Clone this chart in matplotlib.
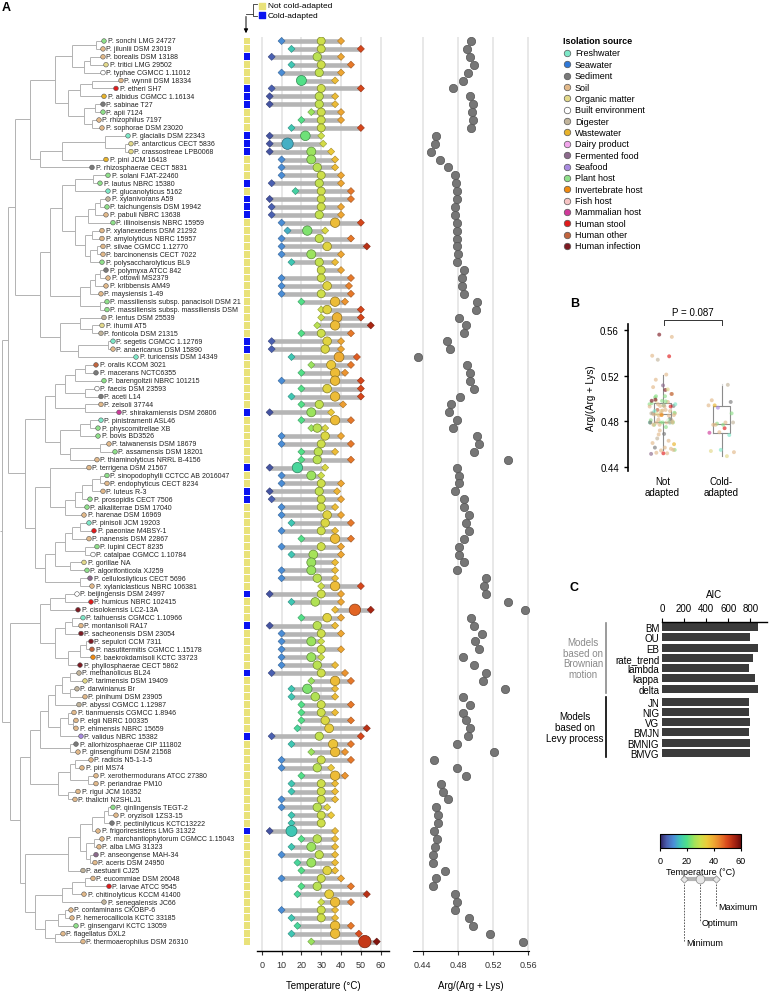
import matplotlib
matplotlib.use('Agg')
import matplotlib.pyplot as plt
import numpy as np
from matplotlib.collections import LineCollection
from matplotlib import cm, colors as mcolors

plt.rcParams['font.family'] = ['Liberation Sans', 'DejaVu Sans']

W, H = 774, 995

species = [
    'P. sonchi LMG 24727', 'P. jilunlii DSM 23019', 'P. borealis DSM 13188',
    'P. tritici LMG 29502', 'P. typhae CGMCC 1.11012', 'P. wynnii DSM 18334',
    'P. etheri SH7', 'P. albidus CGMCC 1.16134', 'P. sabinae T27', 'P. apii 7124',
    'P. rhizophilus 7197', 'P. sophorae DSM 23020', 'P. glacialis DSM 22343',
    'P. antarcticus CECT 5836', 'P. crassostreae LPB0068', 'P. pini JCM 16418',
    'P. rhizosphaerae CECT 5831', 'P. solani FJAT-22460', 'P. lautus NBRC 15380',
    'P. glucanolyticus 5162', 'P. xylanivorans A59', 'P. taichungensis DSM 19942',
    'P. pabuli NBRC 13638', 'P. illinoisensis NBRC 15959', 'P. xylanexedens DSM 21292',
    'P. amylolyticus NBRC 15957', 'P. silvae CGMCC 1.12770', 'P. barcinonensis CECT 7022',
    'P. polysaccharolyticus BL9', 'P. polymyxa ATCC 842', 'P. ottowii MS2379',
    'P. kribbensis AM49', 'P. maysiensis 1-49', 'P. massiliensis subsp. panacisoli DSM 21',
    'P. massiliensis subsp. massiliensis DSM', 'P. lentus DSM 25539', 'P. ihumii AT5',
    'P. fonticola DSM 21315', 'P. segetis CGMCC 1.12769', 'P. anaericanus DSM 15890',
    'P. turicensis DSM 14349', 'P. oralis KCOM 3021', 'P. macerans NCTC6355',
    'P. barengoltzii NBRC 101215', 'P. faecis DSM 23593', 'P. aceti L14',
    'P. zeisoli 37744', 'P. shirakamiensis DSM 26806', 'P. pinistramenti ASL46',
    'P. physcomitrellae XB', 'P. bovis BD3526', 'P. taiwanensis DSM 18679',
    'P. assamensis DSM 18201', 'P. thiaminolyticus NRRL B-4156', 'P. terrigena DSM 21567',
    'P. sinopodophylli CCTCC AB 2016047', 'P. endophyticus CECT 8234', 'P. luteus R-3',
    'P. prosopidis CECT 7506', 'P. alkaliterrae DSM 17040', 'P. harenae DSM 16969',
    'P. pinisoli JCM 19203', 'P. paeoniae M4BSY-1', 'P. nanensis DSM 22867',
    'P. lupini CECT 8235', 'P. catalpae CGMCC 1.10784', 'P. gorillae NA',
    'P. algorifonticola XJ259', 'P. cellulosilyticus CECT 5696',
    'P. xylaniclasticus NBRC 106381', 'P. beijingensis DSM 24997', 'P. humicus NBRC 102415',
    'P. cisolokensis LC2-13A', 'P. taihuensis CGMCC 1.10966', 'P. montanisoli RA17',
    'P. sacheonensis DSM 23054', 'P. sepulcri CCM 7311', 'P. nasutitermitis CGMCC 1.15178',
    'P. baekrokdamisoli KCTC 33723', 'P. phyllosphaerae CECT 5862', 'P. methanolicus BL24',
    'P. tarimensis DSM 19409', 'P. darwinianus Br', 'P. pinihumi DSM 23905',
    'P. abyssi CGMCC 1.12987', 'P. tianmuensis CGMCC 1.8946', 'P. elgii NBRC 100335',
    'P. ehimensis NBRC 15659', 'P. validus NBRC 15382', 'P. allorhizosphaerae CIP 111802',
    'P. ginsengihumi DSM 21568', 'P. radicis N5-1-1-5', 'P. piri MS74',
    'P. xerothermodurans ATCC 27380', 'P. periandrae PM10', 'P. rigui JCM 16352',
    'P. thalictri N2SHLJ1', 'P. qinlingensis TEGT-2', 'P. oryzisoli 1ZS3-15',
    'P. pectinilyticus KCTC13222', 'P. frigoriresistens LMG 31322',
    'P. marchantiophytorum CGMCC 1.15043', 'P. alba LMG 31323', 'P. anseongense MAH-34',
    'P. aceris DSM 24950', 'P. aestuarii CJ25', 'P. eucommiae DSM 26048',
    'P. larvae ATCC 9545', 'P. chitinolyticus KCCM 41400', 'P. senegalensis JC66',
    'P. contaminans CKOBP-6', 'P. hemerocallicola KCTC 33185', 'P. ginsengarvi KCTC 13059',
    'P. flagellatus DXL2', 'P. thermoaerophilus DSM 26310',
]

source = [
    'PH', 'SO', 'SO', 'OM', 'BE', 'SO', 'HS', 'WW', 'SE', 'PH', 'SO', 'SO',
    'FW', 'OM', 'OM', 'WW', 'SE', 'PH', 'PH', 'FW', 'DI', 'PH', 'SO', 'PH',
    'SO', 'SO', 'SO', 'SO', 'PH', 'SE', 'SO', 'SO', 'SO', 'PH', 'PH',
    'DI', 'OM', 'DI', 'FW', 'SO', 'FW', 'HO', 'SE', 'PH', 'BE', 'SE',
    'SO', 'MH', 'FW', 'PH', 'PH', 'SO', 'PH', 'SO', 'SO', 'PH', 'SO', 'SO',
    'PH', 'PH', 'SO', 'FW', 'HS', 'SO', 'PH', 'BE', 'OM', 'PH', 'FF', 'SO',
    'BE', 'HS', 'HI', 'FW', 'SO', 'HI', 'HI', 'HO', 'IH', 'HI', 'DI', 'OM',
    'DI', 'SO', 'DI', 'SO', 'SO', 'SO', 'SF', 'SE', 'SO', 'SO', 'SO', 'SO',
    'SO', 'SO', 'SO', 'PH', 'SO', 'SE', 'SO', 'SO', 'SO', 'FF', 'SO',
    'DI', 'SO', 'HS', 'SO', 'DI', 'SO', 'SO', 'PH', 'SO', 'SO',
]

# rows (1-based) of cold-adapted species
cold_rows = [3, 7, 8, 9, 13, 14, 15, 19, 21, 22, 23, 39, 40, 48, 55, 58, 59,
             71, 75, 81, 89, 101]

t_min = [10, 15, 5, 15, 10, 20, 5, 4, 4, 25, 20, 15, 4, 4, 4, 10, 10, 10, 5, 17,
         4, 5, 5, 10, 13, 10, 10, 10, 15, 30, 10, 10, 10, 20, 30, 30, 28, 20, 5, 5,
         15, 25, 20, 10, 20, 15, 20, 4, 20, 25, 10, 10, 20, 20, 4, 10, 10, 4, 5, 10,
         10, 15, 10, 20, 10, 15, 25, 10, 10, 30, 4, 15, 37, 20, 4, 10, 10, 10, 10, 10,
         5, 25, 15, 15, 20, 20, 20, 18, 5, 15, 25, 10, 10, 20, 15, 15, 10, 10, 15, 15,
         4, 20, 15, 10, 18, 20, 10, 20, 18, 30, 10, 15, 18, 15, 25]
t_opt = [30, 30, 28, 30, 29, 20, 30, 29, 29, 30, 30, 30, 22, 13, 25, 25, 28, 30, 29, 30,
         30, 30, 29, 37, 23, 29, 33, 25, 29, 30, 30, 33, 30, 37, 33, 38, 37, 30, 33, 32,
         39, 35, 37, 37, 33, 37, 29, 25, 37, 28, 32, 30, 28.5, 28, 18, 25, 30, 29, 30, 30,
         33, 32, 30, 37, 30, 26, 25, 25, 28, 37, 30, 27, 47, 33, 28, 30, 25, 30, 25, 28,
         30, 37, 23, 27, 30, 30, 32, 34, 29, 36, 37, 30, 28, 37, 30, 30, 30, 28, 30, 30,
         15, 28, 25, 29, 25, 33, 30, 28, 34, 37, 30, 30, 37, 37, 52]
t_max = [40, 50, 40, 45, 40, 37, 50, 37, 37, 40, 40, 50, 30, 31, 35, 37, 37, 40, 40, 45,
         45, 40, 40, 50, 32, 45, 53, 40, 37, 40, 45, 44, 45, 42, 50, 50, 55, 45, 40, 40,
         48, 45, 42, 50, 50, 50, 41, 35, 45, 32, 40, 45, 37, 45, 32, 30, 40, 38, 40, 37,
         40, 45, 37, 45, 40, 40, 37, 37, 37, 50, 40, 40, 55, 40, 37, 40, 30, 40, 30, 37,
         42, 45, 37, 37, 45, 37, 45, 53, 50, 45, 42, 45, 35, 42, 37, 37, 37, 33, 35, 30,
         37, 37, 37, 37, 37, 37, 40, 45, 53, 45, 37, 37, 45, 49, 58]
arg_ratio = [0.495, 0.490, 0.494, 0.498, 0.491, 0.486, 0.474, 0.494, 0.497, 0.496,
             0.497, 0.495, 0.455, 0.454, 0.4495, 0.460, 0.469, 0.477, 0.478, 0.479,
             0.479, 0.477, 0.477, 0.479, 0.479, 0.479, 0.479, 0.480, 0.479, 0.487,
             0.485, 0.485, 0.487, 0.502, 0.501, 0.4815, 0.489, 0.487, 0.468, 0.4705,
             0.435, 0.490, 0.4935, 0.494, 0.498, 0.482, 0.472, 0.470, 0.479, 0.475,
             0.502, 0.504, 0.498, 0.5375, 0.479, 0.481, 0.4815, 0.477, 0.487, 0.4875,
             0.493, 0.489, 0.493, 0.487, 0.481, 0.4815, 0.4865, 0.479, 0.5115, 0.510,
             0.5125, 0.537, 0.556, 0.495, 0.4985, 0.5075, 0.499, 0.504, 0.4855, 0.498,
             0.512, 0.508, 0.534, 0.4855, 0.494, 0.486, 0.489, 0.4935, 0.492, 0.479,
             0.521, 0.4525, 0.479, 0.4895, 0.461, 0.463, 0.4685, 0.455, 0.457, 0.457,
             0.453, 0.456, 0.4545, 0.4515, 0.452, 0.465, 0.455, 0.452, 0.477, 0.479,
             0.477, 0.493, 0.4975, 0.5165, 0.554]

# tip depth of every leaf and the tree (leaf = row index, number after ')' = node depth)
tip_x = [104, 103, 103, 106, 103, 121, 116, 104, 103, 103, 99, 102, 128, 131, 131, 106,
         92, 108, 100, 108, 108, 107, 106, 113, 102, 102, 103, 103, 102, 106, 108, 106,
         101, 107, 107, 104, 102, 101, 113, 113, 136, 96, 96, 104, 97, 101, 101, 119,
         101, 98, 98, 109, 115, 97, 89, 107, 107, 103, 90, 87, 84, 89, 94, 89, 97, 93,
         84, 87, 90, 92, 77, 91, 78, 83, 81, 81, 91, 92, 93, 80, 79, 85, 77, 85, 79, 74,
         76, 76, 81, 76, 78, 91, 82, 96, 96, 78, 75, 113, 116, 112, 98, 102, 99, 96, 95,
         83, 93, 109, 84, 104, 71, 72, 76, 63, 83]
clades = {
    'A': '(((0,1)96,((2,3)90,4)84)72,(((5,6)92,7)80,((8,9)95,(10,11)92)84)68)55',
    'B': '(((12,(13,14)125)105,15)62,16)40',
    'CD': '(((17,18)93,19)75,((((20,21)100,22)95,23)88,((24,25)92,((26,27)97,28)90)85)75)62',
    'E': '((((29,30)100,31)95,32)90,(33,34)100)80',
    'FG': '((35,(36,37)92)80,((38,39)108,40)78)60',
    'HIJK': '(((((41,42)85,43)75,(44,45)85)65,(46,47)85)55,(((48,49)90,50)80,((51,52)100,53)70)60)45',
    'LM': '(54,(((((55,56)100,57)92,58)82,59)75,60)65)50',
    'NOP': '(((((61,62)80,63)72,(64,65)85)65,(66,67)70)55,(68,69)80)45',
    'PQ': '(((70,71)65,72)50,(((73,74)72,75)65,(((76,77)86,78)80,79)68)55)40',
    'R': '(((((80,81)70,(82,83)70)62,84)55,((85,(86,87)73)68,88)60)48,(89,90)70)40',
    'S': '(((91,92)75,(93,94)88)70,(95,96)68)58',
    'T': '(((((97,98)108,99)104,100)92,((101,102)94,(103,104)90)86)80,105)68',
    'U': '((((106,107)85,108)72,109)62,(((110,111)65,112)58,(113,114)55)45)35',
}
TREE = ('(((({A},{B})30,(({CD},{E})50,{FG})40)15,({HIJK},({LM},{NOP})35)25)8,'
        '({PQ},(({R},{S})30,({T},{U})25)20)10)2').format(**clades)

source_names = ['Freshwater', 'Seawater', 'Sediment', 'Soil', 'Organic matter',
                'Built environment', 'Digester', 'Wastewater', 'Dairy product',
                'Fermented food', 'Seafood', 'Plant host', 'Invertebrate host',
                'Fish host', 'Mammalian host', 'Human stool', 'Human other',
                'Human infection']
source_codes = ['FW', 'SW', 'SE', 'SO', 'OM', 'BE', 'DI', 'WW', 'DP', 'FF', 'SF',
                'PH', 'IH', 'FH', 'MH', 'HS', 'HO', 'HI']
source_colors = ['#7ee8c8', '#2f78d8', '#7a7a7a', '#e2b98a', '#e3d98a', '#ffffff',
                 '#c2b59c', '#e8b32a', '#f2a6ec', '#8c6a8c', '#a98be0', '#8fe08a',
                 '#f08a10', '#f7c4c4', '#cf3a9a', '#e01b1b', '#c2653e', '#7d1a22']

models = ['BM', 'OU', 'EB', 'rate_trend', 'lambda', 'kappa', 'delta',
          'JN', 'NIG', 'VG', 'BMJN', 'BMNIG', 'BMVG']
model_levy = [0, 0, 0, 0, 0, 0, 0, 1, 1, 1, 1, 1, 1]
aic = [870, 800, 865, 827, 790, 845, 865, 790, 790, 800, 790, 800, 800]

# ---------------------------------------------------------------------------
n = len(species)
rows = np.arange(n)
cold = np.isin(rows + 1, cold_rows)
src_col = dict(zip(source_codes, source_colors))
tip_colors = [src_col[s] for s in source]
cmap = mcolors.LinearSegmentedColormap.from_list('temp', [
    (0.00, '#2e1f5e'), (0.08, '#4a5fb0'), (0.17, '#4a90d8'), (0.25, '#3fc7b5'),
    (0.33, '#4fe08a'), (0.42, '#9fe35c'), (0.50, '#cde04a'), (0.58, '#eccb3a'),
    (0.67, '#eea532'), (0.75, '#e87a2a'), (0.83, '#d9481c'), (0.92, '#a82412'),
    (1.00, '#6b0b0b')])
norm = mcolors.Normalize(0, 60)

Y0, DY = 42, 7.9          # pixel centre of first row, row pitch
TOP, BOT = Y0 - 0.5 * DY, 952
YLIM = ((BOT - Y0) / DY, -0.5)


def fbox(x0, y0, x1, y1):
    return [x0 / W, 1 - y1 / H, (x1 - x0) / W, (y1 - y0) / H]


def parse_tree(s):
    pos = 0

    def num():
        nonlocal pos
        j = pos
        while pos < len(s) and (s[pos].isdigit() or s[pos] == '.'):
            pos += 1
        return float(s[j:pos])

    def node():
        nonlocal pos
        if s[pos] == '(':
            pos += 1
            kids = [node()]
            while s[pos] == ',':
                pos += 1
                kids.append(node())
            pos += 1
            nd = {'x': num(), 'kids': kids}
            nd['y'] = (kids[0]['y'] + kids[-1]['y']) / 2
            return nd
        i = int(num())
        return {'x': tip_x[i], 'y': i, 'kids': []}
    return node()


def tree_segments(nd, segs):
    if not nd['kids']:
        return
    ys = [k['y'] for k in nd['kids']]
    segs.append([(nd['x'], min(ys)), (nd['x'], max(ys))])
    for k in nd['kids']:
        segs.append([(nd['x'], k['y']), (k['x'], k['y'])])
        tree_segments(k, segs)


fig = plt.figure(figsize=(W / 100, H / 100), dpi=100)

# ---- tree + labels + cold squares
ax_t = fig.add_axes(fbox(0, TOP, 256, BOT))
root = parse_tree(TREE)
segs = [[(0, root['y']), (root['x'], root['y'])]]
tree_segments(root, segs)
ax_t.add_collection(LineCollection(segs, colors='#adadad', linewidths=0.65))
ax_t.scatter(tip_x, rows, s=11, c=tip_colors, edgecolors='#555555',
             linewidths=0.4, zorder=3)
for i in rows:
    ax_t.text(tip_x[i] + 3.5, i, species[i], fontsize=5, va='center',
              color='#222222')
ax_t.scatter(np.full(n, 247), rows, marker='s', s=25, linewidths=0,
             c=np.where(cold, '#0a14f0', '#e9e27a'))
ax_t.set_xlim(0, 256)
ax_t.set_ylim(*YLIM)
ax_t.axis('off')

# ---- temperature ranges
ax_T = fig.add_axes(fbox(257, TOP, 389, BOT))
for v in range(0, 61, 10):
    ax_T.axvline(v, color='#e4e4e4', lw=1.2, zorder=0)
ax_T.hlines(rows, t_min, t_max, color='#b5b5b5', lw=3.3, zorder=1)


def dark(vals, f):
    c = cmap(norm(np.asarray(vals, float)))
    c[:, :3] *= f
    return c


opt_arr = np.asarray(t_opt, float)
opt_size = (0.72 * (8 + 0.2 * np.abs(opt_arr - 30))) ** 2
ax_T.scatter(t_min, rows, marker='D', s=13, c=t_min, cmap=cmap, norm=norm,
             edgecolors=dark(t_min, 0.7), linewidths=0.4, zorder=2)
ax_T.scatter(t_max, rows, marker='D', s=13, c=t_max, cmap=cmap, norm=norm,
             edgecolors=dark(t_max, 0.7), linewidths=0.4, zorder=2)
ax_T.scatter(t_opt, rows, marker='o', s=opt_size, c=t_opt, cmap=cmap, norm=norm,
             edgecolors=dark(t_opt, 0.6), linewidths=0.5, zorder=3)
ax_T.set_xlim(-2.4, 64.2)
ax_T.set_ylim(*YLIM)
ax_T.set_yticks([])
ax_T.set_xticks(range(0, 61, 10))
ax_T.tick_params(axis='x', labelsize=6.5, length=3, width=0.8, colors='#333333')
for sp in ['left', 'right', 'top']:
    ax_T.spines[sp].set_visible(False)
ax_T.spines['bottom'].set_linewidth(1.0)
ax_T.set_xlabel('Temperature (°C)', fontsize=7, labelpad=8)

# ---- Arg/(Arg+Lys)
ax_R = fig.add_axes(fbox(413, TOP, 529, BOT))
for v in [0.44, 0.48, 0.52, 0.56]:
    ax_R.axvline(v, color='#e4e4e4', lw=1.2, zorder=0)
ax_R.scatter(arg_ratio, rows, s=36, color='#767676', edgecolors='#555555',
             linewidths=0.5, zorder=2)
ax_R.set_xlim(0.429, 0.5608)
ax_R.set_ylim(*YLIM)
ax_R.set_yticks([])
ax_R.set_xticks([0.44, 0.48, 0.52, 0.56])
ax_R.set_xticklabels(['0.44', '0.48', '0.52', '0.56'])
ax_R.tick_params(axis='x', labelsize=6.5, length=3, width=0.8, colors='#333333')
for sp in ['left', 'right', 'top']:
    ax_R.spines[sp].set_visible(False)
ax_R.set_xlabel('Arg/(Arg + Lys)', fontsize=7, labelpad=8)

# ---- panel B
ax_b = fig.add_axes(fbox(628, 325, 745, 472))
arg_arr = np.array(arg_ratio)
groups = [rows[~cold], rows[cold]]
ax_b.boxplot([arg_arr[g] for g in groups], positions=[0, 1], widths=0.29,
             showfliers=False, showcaps=False,
             boxprops=dict(color='#8c8c8c', lw=0.8),
             whiskerprops=dict(color='#8c8c8c', lw=0.8),
             medianprops=dict(color='#8c8c8c', lw=0.8), zorder=1)
for gi, g in enumerate(groups):
    jit = ((np.arange(len(g)) * 0.6180339) % 1 - 0.5) * 0.44
    ax_b.scatter(gi + jit, arg_arr[g], s=8, c=[tip_colors[i] for i in g],
                 alpha=0.65, linewidths=0, zorder=2)
ax_b.set_xlim(-0.585, 1.398)
ax_b.set_ylim(0.4365, 0.5653)
ax_b.set_yticks([0.44, 0.48, 0.52, 0.56])
ax_b.set_yticklabels(['0.44', '0.48', '0.52', '0.56'])
ax_b.set_xticks([0, 1])
ax_b.set_xticklabels(['Not\nadapted', 'Cold-\nadapted'])
ax_b.tick_params(axis='x', length=0, labelsize=7)
ax_b.tick_params(axis='y', labelsize=7, length=3, width=1)
for sp in ['right', 'top', 'bottom']:
    ax_b.spines[sp].set_visible(False)
ax_b.spines['left'].set_linewidth(1.2)
ax_b.set_ylabel('Arg/(Arg + Lys)', fontsize=7, labelpad=3)

# ---- panel C
ax_c = fig.add_axes(fbox(662, 623, 767, 759))
ypos = np.arange(len(models)) + 0.25 * np.array(model_levy)
ax_c.barh(ypos, aic, height=0.78, color='#3b3b3b')
ax_c.set_ylim(ypos[-1] + 0.5, -0.5)
ax_c.set_xlim(0, 950)
ax_c.set_yticks(ypos)
ax_c.set_yticklabels(models)
ax_c.xaxis.tick_top()
ax_c.xaxis.set_label_position('top')
ax_c.set_xticks(range(0, 801, 200))
ax_c.tick_params(axis='x', labelsize=7, length=3, width=0.8)
ax_c.tick_params(axis='y', labelsize=7, length=0, pad=2)
for sp in ['right', 'bottom', 'left']:
    ax_c.spines[sp].set_visible(False)
ax_c.spines['top'].set_linewidth(1.0)
ax_c.set_xlabel('AIC', fontsize=7, labelpad=4)

# ---- colorbar
ax_cb = fig.add_axes(fbox(660, 835, 741, 849))
cb = fig.colorbar(cm.ScalarMappable(norm=norm, cmap=cmap), cax=ax_cb,
                  orientation='horizontal')
cb.set_ticks([0, 20, 40, 60])
cb.ax.tick_params(labelsize=6.5, length=2.5)
cb.outline.set_linewidth(0.8)
cb.set_label('Temperature (°C)', fontsize=6.5, labelpad=1)

# ---- annotations on an overlay in pixel units
ov = fig.add_axes([0, 0, 1, 1])
ov.set_xlim(0, W)
ov.set_ylim(H, 0)
ov.axis('off')
ov.text(2, 8, 'A', fontsize=9, fontweight='bold', va='center')
ov.text(570, 304, 'B', fontsize=9, fontweight='bold', va='center')
ov.text(570, 588, 'C', fontsize=9, fontweight='bold', va='center')

# cold-adaptation key
ov.scatter([262, 262], [7, 16], marker='s', s=25, c=['#e9e27a', '#0a14f0'])
ov.text(268, 7, 'Not cold-adapted', fontsize=6, va='center')
ov.text(268, 16, 'Cold-adapted', fontsize=6, va='center')
ov.plot([257, 253, 253, 257], [5, 5, 17, 17], color='#333333', lw=0.6)
ov.plot([253, 246], [15, 15], color='#333333', lw=0.6)
ov.annotate('', xy=(246, 37), xytext=(246, 14.7),
            arrowprops=dict(arrowstyle='-|>', color='black', lw=0.7,
                            mutation_scale=6))

# isolation source legend
ov.text(563, 41, 'Isolation source', fontsize=6.5, fontweight='bold', va='center')
for k, (nm, col) in enumerate(zip(source_names, source_colors)):
    yy = 54 + k * 11.35
    ov.scatter(567, yy, s=22, color=col, edgecolors='#555555', linewidths=0.5)
    ov.text(575, yy, nm, fontsize=6.5, va='center')

# P-value bracket for panel B
ov.plot([664, 664, 722, 722], [326, 321, 321, 326], color='#333333', lw=0.7)
ov.text(693, 318, 'P = 0.087', fontsize=7, ha='center', va='bottom')

# model-group brackets for panel C
ov.plot([606, 606], [624, 694], color='#8a8a8a', lw=1.2)
ov.text(583, 659, 'Models\nbased on\nBrownian\nmotion', fontsize=7, ha='center',
        va='center', color='#8a8a8a', linespacing=1.1)
ov.plot([606, 606], [698, 758], color='black', lw=1.2)
ov.text(575, 728, 'Models\nbased on\nLevy process', fontsize=7, ha='center',
        va='center', linespacing=1.1)

# min / optimum / max key
ov.plot([684, 716], [880, 880], color='#b5b5b5', lw=3)
ov.scatter([684, 716], [880, 880], marker='D', s=14, color='#e6e6e6',
           edgecolors='#888888', linewidths=0.5, zorder=3)
ov.scatter([700], [880], s=40, color='#e6e6e6', edgecolors='#888888',
           linewidths=0.5, zorder=3)
for xx, yy, lab in [(716, 907, 'Maximum'), (700, 923, 'Optimum'),
                    (684, 943, 'Minimum')]:
    ov.plot([xx, xx], [885, yy], color='#444444', lw=0.6, ls=(0, (2, 1.5)))
    ov.text(xx + 2, yy, lab, fontsize=6.5, va='center')

fig.savefig('out.png', dpi=100)
